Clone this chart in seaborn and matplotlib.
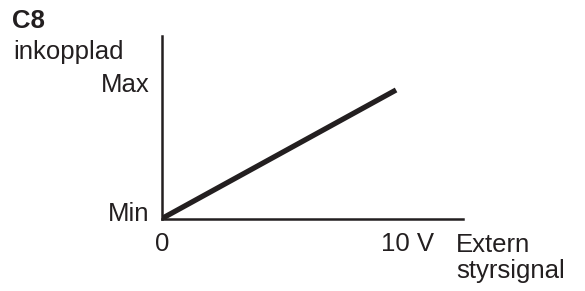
import matplotlib
matplotlib.use("Agg")
import matplotlib.pyplot as plt
import matplotlib.transforms as mtransforms
import seaborn as sns
import pandas as pd

signal = [0, 10]
level = [0, 1]
x_ticks = [0, 10]
x_labels = ["0", "10 V"]
y_ticks = [0, 1]
y_labels = ["Min", "Max"]

sns.set_style("white")
plt.rcParams['font.family'] = ['Liberation Sans', 'DejaVu Sans']
ink = '#231f20'
fs = 18.5

fig = plt.figure(figsize=(5.85, 2.91), dpi=100)
ax = fig.add_axes([162/585, 1-218.5/291, (463-162)/585, (218.5-36)/291])
df = pd.DataFrame({"signal": signal, "level": level})
sns.lineplot(data=df, x="signal", y="level", ax=ax, color=ink, linewidth=3.8,
             solid_capstyle='butt')
ax.set_xlim(0, 12.86)
ax.set_ylim(0, 1.42)
ax.set_xlabel("")
ax.set_ylabel("")
for s in ["top", "right"]:
    ax.spines[s].set_visible(False)
for s in ["left", "bottom"]:
    ax.spines[s].set_color(ink)
    ax.spines[s].set_linewidth(1.8)
ax.set_xticks(x_ticks)
ax.set_xticklabels(x_labels, fontsize=fs, color=ink)
ax.set_yticks(y_ticks)
ax.set_yticklabels(y_labels, fontsize=fs, color=ink)
ax.tick_params(axis='x', length=0, pad=10)
ax.tick_params(axis='y', length=0, pad=9)
lab = ax.get_xticklabels()[1]
lab.set_transform(lab.get_transform() + mtransforms.ScaledTranslation(11/100, 0, fig.dpi_scale_trans))
for yl in ax.get_yticklabels():
    yl.set_transform(yl.get_transform() + mtransforms.ScaledTranslation(0, 7/100, fig.dpi_scale_trans))

fig.text(12/585, 1-9/291, "C8", fontsize=fs, fontweight='bold', color=ink, va='top', ha='left')
fig.text(13/585, 1-40/291, "inkopplad", fontsize=fs, color=ink, va='top', ha='left')
fig.text(456/585, 1-233/291, "Extern\nstyrsignal", fontsize=fs, color=ink, va='top', ha='left',
         linespacing=1.1)

fig.savefig("out.png", dpi=100)
